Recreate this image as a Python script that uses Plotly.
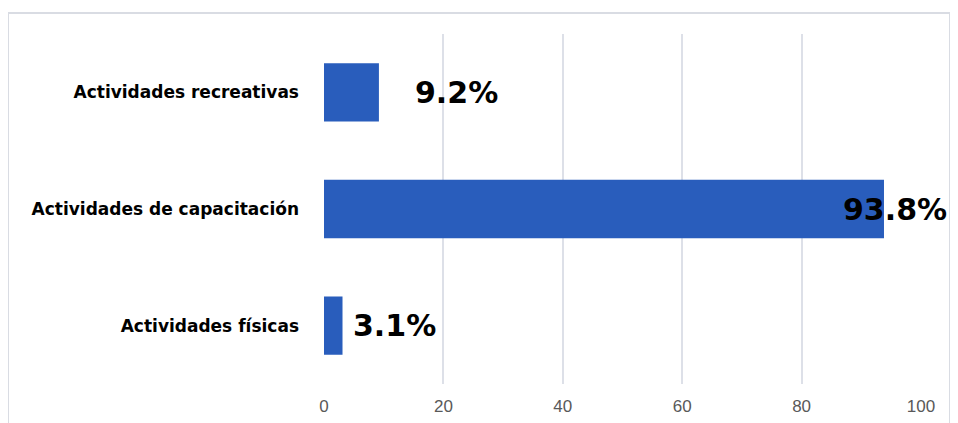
import plotly.graph_objects as go

categories = ["Actividades físicas", "Actividades de capacitación", "Actividades recreativas"]
values = [3.1, 93.8, 9.2]
value_labels = ["3.1%", "93.8%", "9.2%"]
label_shift = [8, -43, 34]
tick_vals = [0, 20, 40, 60, 80, 100]

W, H = 958, 423
OFF = 8  # page body margin
L, R, T, B = 324 - OFF, W - (921 - OFF), 34 - OFF, H - (384 - OFF)
pw, ph = W - L - R, H - T - B

fig = go.Figure()
fig.add_trace(go.Bar(
    y=categories, x=values, orientation="h", width=0.5,
    marker=dict(color="#295DBC", line=dict(width=0)),
    hoverinfo="skip",
))

for c, v, t, s in zip(categories, values, value_labels, label_shift):
    fig.add_annotation(x=v, y=c, xref="x", yref="y", text=t, showarrow=False,
                       xanchor="left", xshift=s,
                       font=dict(family="DejaVu Sans", size=30, color="#000000", weight="bold"))

def px(x):
    return (x - OFF - L) / pw

def py(y):
    return 1 - (y - OFF - T) / ph

fig.add_shape(type="rect", xref="paper", yref="paper",
              x0=px(8), x1=px(950), y0=py(445), y1=py(13),
              line=dict(color="#D9DCE3", width=2), fillcolor="rgba(0,0,0,0)", layer="below")

fig.update_layout(
    width=W, height=H, margin=dict(l=L, r=R, t=T, b=B),
    paper_bgcolor="white", plot_bgcolor="white", showlegend=False,
    xaxis=dict(range=[0, 100], tickvals=tick_vals, showgrid=True, gridcolor="#DDE0E8", gridwidth=2,
               zeroline=False, showline=False, ticks="", ticklabelstandoff=10,
               tickfont=dict(family="Liberation Sans", size=17, color="#595959")),
    yaxis=dict(range=[-0.5, 2.5], showgrid=False, zeroline=False, showline=False, ticks="",
               ticklabelstandoff=24,
               tickfont=dict(family="DejaVu Sans", size=17, color="#000000", weight="bold")),
)
fig.write_html("out.html")
